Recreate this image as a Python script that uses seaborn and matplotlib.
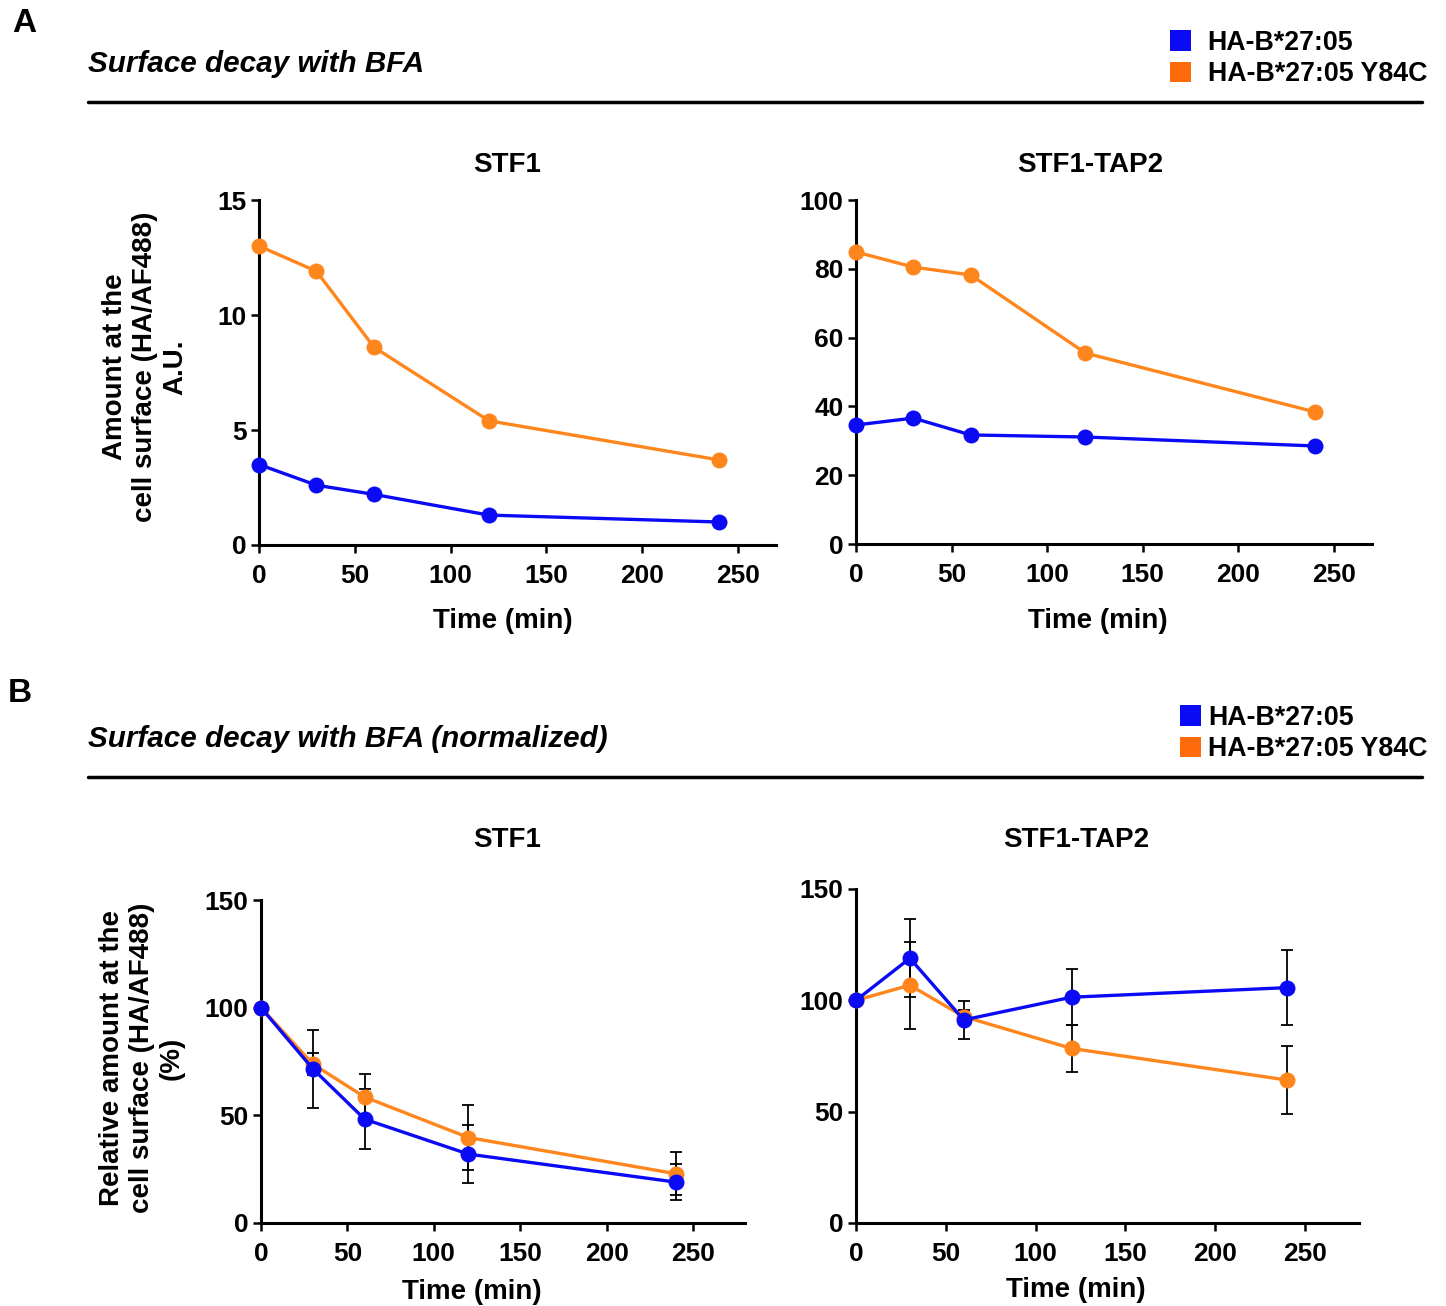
import matplotlib
matplotlib.use("Agg")
import matplotlib.pyplot as plt
import seaborn as sns
import pandas as pd
from matplotlib.patches import Patch
from matplotlib.lines import Line2D

# data
time = [0, 30, 60, 120, 240]
series = ["HA-B*27:05", "HA-B*27:05 Y84C"]

# panel A (A.U.)
stf1_wt = [3.5, 2.6, 2.2, 1.3, 1.0]
stf1_y84c = [13.0, 11.9, 8.6, 5.4, 3.7]
tap2_wt = [34.6, 36.6, 31.7, 31.1, 28.5]
tap2_y84c = [84.9, 80.5, 78.2, 55.5, 38.4]

# panel B (% of t=0) with error bars
stf1_wt_norm = [100, 71.6, 48.2, 32.0, 19.0]
stf1_wt_err = [0, 18.0, 14.0, 13.3, 8.4]
stf1_y84c_norm = [100, 73.8, 58.5, 39.7, 22.9]
stf1_y84c_err = [0, 5.2, 10.8, 15.3, 9.9]
tap2_wt_norm = [100, 118.9, 91.2, 101.4, 105.7]
tap2_wt_err = [0, 17.5, 8.6, 12.5, 16.8]
tap2_y84c_norm = [100, 106.8, 92.7, 78.4, 64.2]
tap2_y84c_err = [0, 19.5, 3.0, 10.7, 15.3]

BLUE = "#0a0af5"
ORANGE = "#ff861c"
ORANGE_PATCH = "#ff6a0a"

sns.set_style("ticks")
plt.rcParams["font.family"] = ["Liberation Sans", "DejaVu Sans"]
plt.rcParams["font.weight"] = "bold"
for k in ["text.color", "axes.labelcolor", "xtick.color", "ytick.color",
          "axes.edgecolor"]:
    plt.rcParams[k] = "black"

W, H = 1446, 1306
fig = plt.figure(figsize=(W / 100, H / 100), dpi=100)


def px(x):
    return x / W


def py(y):
    return 1 - y / H


def make_ax(x0, x250, y0, ytop, ymax, xmax):
    # x0 / x250: pixel of x=0 and x=250; y0 / ytop: pixel of y=0 and y=ymax
    ppu = (x250 - x0) / 250
    right = x0 + xmax * ppu
    ax = fig.add_axes([px(x0), py(y0), px(right - x0), (y0 - ytop) / H])
    ax.set_xlim(0, xmax)
    ax.set_ylim(0, ymax)
    return ax


def style(ax, yticks):
    for s in ["top", "right"]:
        ax.spines[s].set_visible(False)
    for s in ["left", "bottom"]:
        ax.spines[s].set_linewidth(2.2)
        ax.spines[s].set_color("black")
    ax.set_xticks([0, 50, 100, 150, 200, 250])
    ax.set_yticks(yticks)
    ax.tick_params(length=6, width=1.8, labelsize=19, colors="black")
    ax.tick_params(axis="x", pad=8)
    ax.tick_params(axis="y", pad=3)
    for lab in ax.get_xticklabels() + ax.get_yticklabels():
        lab.set_fontweight("bold")
    ax.set_xlabel("")
    ax.set_ylabel("")
    leg = ax.get_legend()
    if leg:
        leg.remove()


def draw(ax, y, color, err=None):
    if err is not None:
        ax.errorbar(time, y, yerr=err, fmt="none", ecolor="black",
                    elinewidth=1.3, capsize=4, capthick=1.3, zorder=1)
    df = pd.DataFrame({"time": time, "value": y})
    sns.lineplot(data=df, x="time", y="value", ax=ax, color=color,
                 marker="o", markersize=11.5, markeredgewidth=0,
                 linewidth=2.4, zorder=3, clip_on=False)


# ---- panel A ----
axA1 = make_ax(259, 738, 545, 200, 15, 270)
draw(axA1, stf1_wt, BLUE)
draw(axA1, stf1_y84c, ORANGE)
style(axA1, [0, 5, 10, 15])

axA2 = make_ax(856, 1334, 544, 200, 100, 270)
draw(axA2, tap2_wt, BLUE)
draw(axA2, tap2_y84c, ORANGE)
style(axA2, [0, 20, 40, 60, 80, 100])

# ---- panel B ----
axB1 = make_ax(261, 693, 1223, 900, 150, 280)
draw(axB1, stf1_y84c_norm, ORANGE, stf1_y84c_err)
draw(axB1, stf1_wt_norm, BLUE, stf1_wt_err)
style(axB1, [0, 50, 100, 150])

axB2 = make_ax(856, 1305, 1223, 889, 150, 280)
draw(axB2, tap2_y84c_norm, ORANGE, tap2_y84c_err)
draw(axB2, tap2_wt_norm, BLUE, tap2_wt_err)
style(axB2, [0, 50, 100, 150])

# ---- text ----
fs = 20
fig.text(px(12), py(23), "A", fontsize=24, fontweight="bold", va="center")
fig.text(px(8), py(693), "B", fontsize=24, fontweight="bold", va="center")
fig.text(px(88), py(64), "Surface decay with BFA", fontsize=21.3,
         fontweight="bold", style="italic", va="center")
fig.text(px(88), py(739), "Surface decay with BFA (normalized)", fontsize=21.3,
         fontweight="bold", style="italic", va="center")
for yl in (102, 777):
    fig.add_artist(Line2D([px(88), px(1422)], [py(yl), py(yl)],
                          color="black", linewidth=2.5))

for x, y, t in [(507, 165, "STF1"), (1090, 165, "STF1-TAP2"),
                (507, 840, "STF1"), (1076, 840, "STF1-TAP2")]:
    fig.text(px(x), py(y), t, fontsize=fs, fontweight="bold",
             ha="center", va="center")

for x, y in [(503, 621), (1098, 621), (472, 1292), (1076, 1290)]:
    fig.text(px(x), py(y), "Time (min)", fontsize=fs, fontweight="bold",
             ha="center", va="center")

fig.text(px(145), py(367), "Amount at the\ncell surface (HA/AF488)\nA.U.",
         rotation=90, fontsize=fs, fontweight="bold", ha="center",
         va="center", multialignment="center", linespacing=1.2)
fig.text(px(142), py(1058),
         "Relative amount at the\ncell surface (HA/AF488)\n(%)",
         rotation=90, fontsize=fs, fontweight="bold", ha="center",
         va="center", multialignment="center", linespacing=1.2)

# ---- legends ----
handles = [Patch(facecolor=BLUE, edgecolor="none"),
           Patch(facecolor=ORANGE_PATCH, edgecolor="none")]
for x, y, pad in [(1170, 30, 0.6), (1180, 705, 0.25)]:
    fig.legend(handles, series, loc="upper left",
               bbox_to_anchor=(px(x), py(y)), frameon=False,
               prop={"size": 19.3, "weight": "bold"},
               handlelength=0.8, handleheight=0.8, handletextpad=pad,
               labelspacing=0.2, borderpad=0, borderaxespad=0)

fig.savefig("out.png", dpi=100)
